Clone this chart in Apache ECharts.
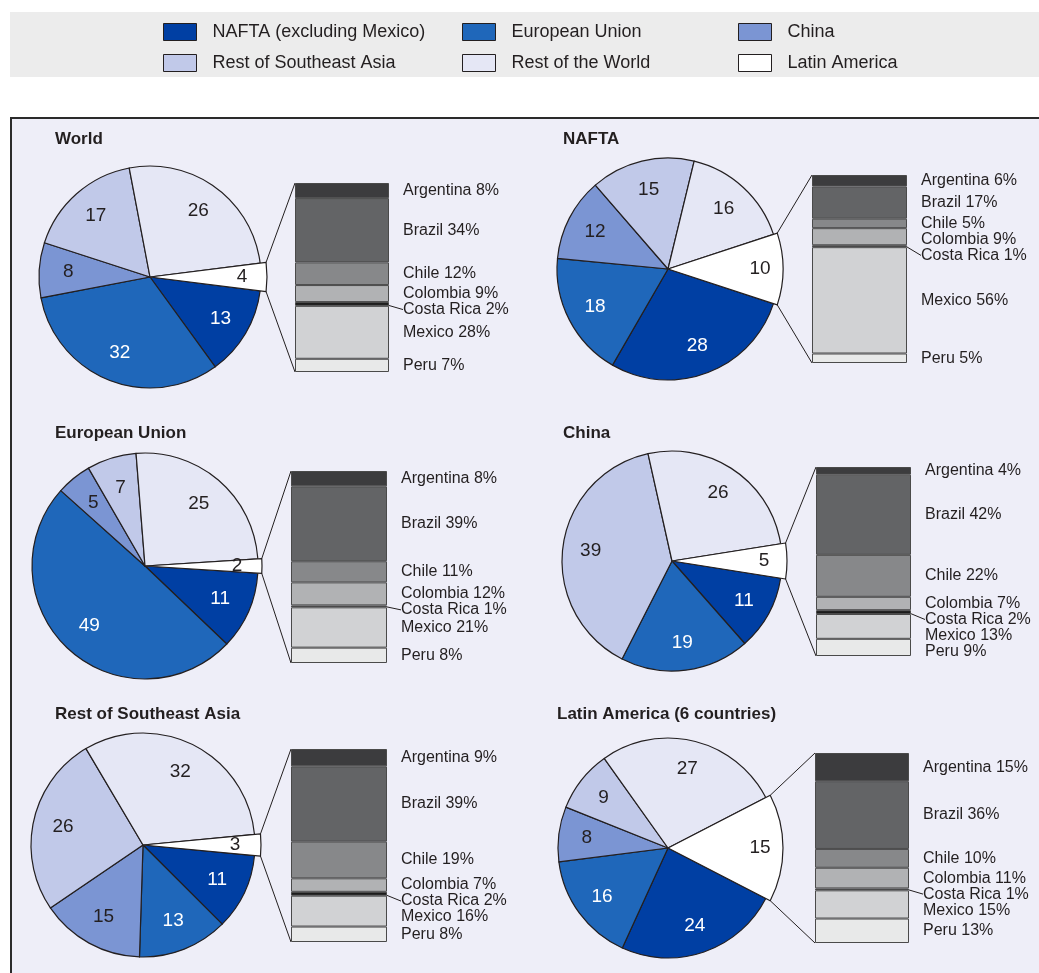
<!DOCTYPE html>
<html>
<head>
<meta charset="utf-8">
<title>Destination of exports</title>
<script src="https://cdn.jsdelivr.net/npm/echarts@6.0.0/dist/echarts.min.js"></script>
<style>
html, body { margin: 0; padding: 0; background: #fff; }
#chart { width: 1039px; height: 973px; }
</style>
</head>
<body>
<div id="chart"></div>
<script>
// pie slices, always in this order (Latin America first so it sits on the right)
var regionNames = ['Latin America', 'NAFTA (excluding Mexico)', 'European Union', 'China', 'Rest of Southeast Asia', 'Rest of the World'];
var panelTitles = ['World', 'NAFTA', 'European Union', 'China', 'Rest of Southeast Asia', 'Latin America (6 countries)'];

var worldShares  = [4, 13, 32, 8, 17, 26];
var naftaShares  = [10, 28, 18, 12, 15, 16];
var euShares     = [2, 11, 49, 5, 7, 25];
var chinaShares  = [5, 11, 19, null, 39, 26];
var seAsiaShares = [3, 11, 13, 15, 26, 32];
var latamShares  = [15, 24, 16, 8, 9, 27];

// breakdown of the Latin America slice
var countries   = ['Argentina', 'Brazil', 'Chile', 'Colombia', 'Costa Rica', 'Mexico', 'Peru'];
var worldLatam  = [8, 34, 12, 9, 2, 28, 7];
var naftaLatam  = [6, 17, 5, 9, 1, 56, 5];
var euLatam     = [8, 39, 11, 12, 1, 21, 8];
var chinaLatam  = [4, 42, 22, 7, 2, 13, 9];
var seAsiaLatam = [9, 39, 19, 7, 2, 16, 8];
var latamLatam  = [15, 36, 10, 11, 1, 15, 13];

var pieShares = [worldShares, naftaShares, euShares, chinaShares, seAsiaShares, latamShares];
var barShares = [worldLatam, naftaLatam, euLatam, chinaLatam, seAsiaLatam, latamLatam];

// legend columns
var legendCols = [
    ['NAFTA (excluding Mexico)', 'Rest of Southeast Asia'],
    ['European Union', 'Rest of the World'],
    ['China', 'Latin America']
];

// ---- styles / layout ----
var FONT = 'Liberation Sans';
var INK = '#231f20';
var regionColors = {
    'Latin America': '#ffffff',
    'NAFTA (excluding Mexico)': '#003fa3',
    'European Union': '#1f67ba',
    'China': '#7b95d3',
    'Rest of Southeast Asia': '#c1c9e9',
    'Rest of the World': '#e5e7f5'
};
var whiteText = { 'NAFTA (excluding Mexico)': 1, 'European Union': 1 };
var barColors = ['#3c3c3e', '#636466', '#87888a', '#b1b2b4', '#1c1c1c', '#d1d2d4', '#e8e9e9'];

var layout = [
    { title: [55, 131],  pie: [150, 277], r: 111, rOut: 117, bar: [295, 183, 94, 189] },
    { title: [563, 131], pie: [668, 269], r: 111, rOut: 115, bar: [812, 175, 95, 188] },
    { title: [55, 425],  pie: [145, 566], r: 113, rOut: 117, bar: [291, 471, 96, 192] },
    { title: [563, 425], pie: [672, 561], r: 110, rOut: 115, bar: [816, 467, 95, 189] },
    { title: [55, 706],  pie: [143, 845], r: 112, rOut: 118, bar: [291, 749, 96, 193] },
    { title: [557, 706], pie: [668, 848], r: 110, rOut: 115, bar: [815, 753, 94, 190] }
];
var LABEL_GAP = 16;

var series = [], grids = [], xAxes = [], yAxes = [], titles = [];
var graphics = [
    { type: 'rect', shape: { x: 10, y: 12, width: 1040, height: 65 }, style: { fill: '#ececec' } },
    { type: 'rect', shape: { x: 11, y: 118, width: 1040, height: 870 }, style: { fill: '#eeeef8', stroke: '#2b2b2b', lineWidth: 2 } }
];

function hidden() { return { color: 'rgba(0,0,0,0)', borderWidth: 0 }; }

layout.forEach(function (L, k) {
    titles.push({
        text: panelTitles[k], left: L.title[0], top: L.title[1], padding: 0,
        textStyle: { fontFamily: FONT, fontSize: 17, fontWeight: 'bold', color: INK }
    });

    // ---- pie ----
    var shares = pieShares[k];
    var total = 0;
    shares.forEach(function (v) { total += v || 0; });
    var half = shares[0] / total * 180;
    var items = [];
    shares.forEach(function (v, i) {
        if (v == null) return;
        items.push({ name: regionNames[i], value: v });
    });

    var pieBase = {
        type: 'pie', silent: true, animation: false, center: L.pie, startAngle: half, clockwise: true,
        avoidLabelOverlap: false, emphasis: { disabled: true }, label: { show: false }, labelLine: { show: false }
    };
    var numLabel = function (d) {
        return { show: true, position: 'inside', formatter: '{c}', fontFamily: FONT, fontSize: 19,
                 color: whiteText[d.name] ? '#fff' : INK };
    };
    series.push(Object.assign({}, pieBase, {
        radius: L.r,
        data: items.map(function (d) {
            return { name: d.name, value: d.value,
                itemStyle: { color: regionColors[d.name], borderColor: INK, borderWidth: 1.2 } };
        })
    }));
    // Latin America slice pulled out a little further
    series.push(Object.assign({}, pieBase, {
        radius: L.rOut, z: 3,
        data: items.map(function (d) {
            var la = d.name === 'Latin America';
            return { name: d.name, value: d.value,
                itemStyle: la ? { color: '#fff', borderColor: INK, borderWidth: 1.2 } : hidden() };
        })
    }));
    // number labels (the small Latin America slice gets its number further out)
    series.push(Object.assign({}, pieBase, {
        radius: [44, 114], z: 4,
        data: items.map(function (d) {
            var la = d.name === 'Latin America';
            return { name: d.name, value: d.value, itemStyle: hidden(),
                     label: la ? { show: false } : numLabel(d) };
        })
    }));
    series.push(Object.assign({}, pieBase, {
        radius: [64, 114], z: 4,
        data: items.map(function (d) {
            var la = d.name === 'Latin America';
            return { name: d.name, value: d.value, itemStyle: hidden(),
                     label: la ? numLabel(d) : { show: false } };
        })
    }));

    // ---- stacked bar ----
    var vals = barShares[k];
    var bTotal = 0;
    vals.forEach(function (v) { bTotal += v; });
    var bx = L.bar[0], by = L.bar[1], bw = L.bar[2], bh = L.bar[3];
    grids.push({ left: bx, top: by, width: bw, height: bh });
    xAxes.push({ type: 'category', gridIndex: k, data: ['Latin America'], show: false });
    yAxes.push({ type: 'value', gridIndex: k, min: 0, max: bTotal, inverse: true, show: false });

    // spread labels so they do not collide
    var px = bh / bTotal, cum = 0, prev = -1e9, dys = [];
    vals.forEach(function (v) {
        var mid = by + (cum + v / 2) * px;
        var t = Math.max(mid, prev + LABEL_GAP);
        dys.push(t - mid);
        prev = t;
        cum += v;
    });

    countries.forEach(function (c, i) {
        series.push({
            type: 'bar', name: c, xAxisIndex: k, yAxisIndex: k, stack: 'latam' + k,
            barWidth: '100%', silent: true, animation: false,
            itemStyle: { color: barColors[i], borderColor: '#4a4a4a', borderWidth: 1 },
            label: { show: true, position: 'right', distance: 14, formatter: c + ' {c}%',
                     fontFamily: FONT, fontSize: 16, color: INK },
            labelLayout: { dy: dys[i] },
            labelLine: { show: c === 'Costa Rica', lineStyle: { color: INK, width: 1 } },
            data: [vals[i]]
        });
    });

    // connectors from the slice to the bar
    var a = half * Math.PI / 180;
    var ex = L.pie[0] + L.rOut * Math.cos(a);
    var ey = L.rOut * Math.sin(a);
    graphics.push({ type: 'line', shape: { x1: ex, y1: L.pie[1] - ey, x2: bx, y2: by }, style: { stroke: INK, lineWidth: 1 } });
    graphics.push({ type: 'line', shape: { x1: ex, y1: L.pie[1] + ey, x2: bx, y2: by + bh }, style: { stroke: INK, lineWidth: 1 } });
});

var legendLeft = [163, 462, 738];
var legends = legendCols.map(function (col, j) {
    return {
        left: legendLeft[j], top: 23, padding: 0, orient: 'vertical', selectedMode: false,
        itemWidth: 33, itemHeight: 17, itemGap: 13, icon: 'rect',
        textStyle: { fontFamily: FONT, fontSize: 18, color: INK, padding: [0, 0, 0, 11] },
        data: col.map(function (n) {
            return { name: n, itemStyle: { color: regionColors[n], borderColor: INK, borderWidth: 1 } };
        })
    };
});

var chart = echarts.init(document.getElementById('chart'));
chart.setOption({
    backgroundColor: '#fff',
    animation: false,
    textStyle: { fontFamily: FONT },
    title: titles,
    legend: legends,
    graphic: { elements: graphics },
    grid: grids,
    xAxis: xAxes,
    yAxis: yAxes,
    series: series
});
</script>
</body>
</html>
